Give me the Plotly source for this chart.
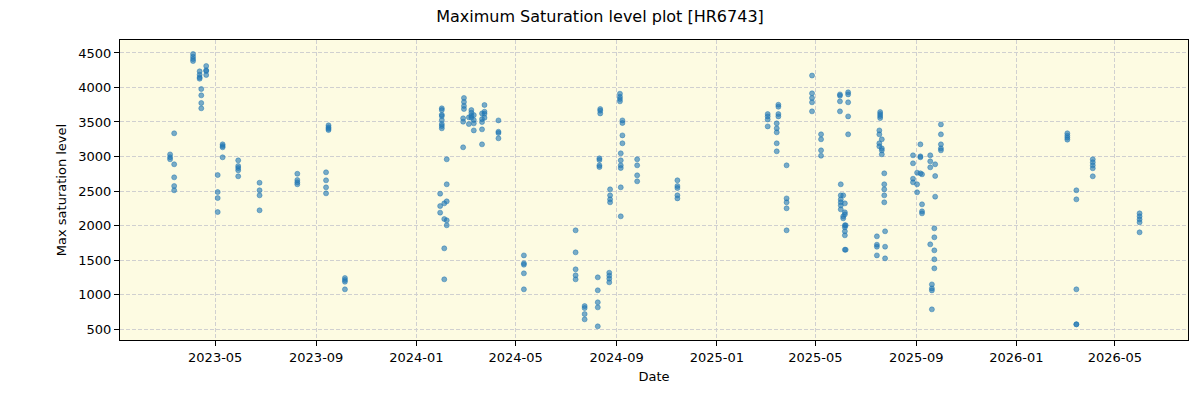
import plotly.graph_objects as go

group_dates = [
    "2023-03-07", "2023-03-12", "2023-04-04", "2023-04-12", "2023-04-14", "2023-04-20",
    "2023-05-04", "2023-05-10", "2023-05-29", "2023-06-24", "2023-08-09", "2023-09-13",
    "2023-09-16", "2023-10-06",
    "2024-01-30", "2024-02-01", "2024-02-04", "2024-02-07", "2024-02-27", "2024-02-28",
    "2024-03-05", "2024-03-08", "2024-03-11", "2024-03-21", "2024-03-24", "2024-04-10",
    "2024-05-11", "2024-07-13", "2024-07-24", "2024-08-09", "2024-08-11", "2024-08-12",
    "2024-08-23", "2024-08-24", "2024-09-05", "2024-09-06", "2024-09-08", "2024-09-26",
    "2024-11-14",
    "2025-03-04", "2025-03-15", "2025-03-17", "2025-03-27", "2025-04-27", "2025-05-08",
    "2025-05-31", "2025-06-01", "2025-06-04", "2025-06-06", "2025-06-07", "2025-06-10",
    "2025-07-15", "2025-07-18", "2025-07-19", "2025-07-21", "2025-07-24", "2025-07-25",
    "2025-08-28", "2025-09-02", "2025-09-06", "2025-09-08", "2025-09-18", "2025-09-20",
    "2025-09-23", "2025-09-24", "2025-10-01",
    "2026-03-04", "2026-03-15", "2026-04-04", "2026-05-31",
]
group_values = [
    [3030, 2990, 2960],
    [3336, 2887, 2698, 2572, 2510],
    [4485, 4446, 4412, 4383],
    [4234, 4185, 4147, 4127],
    [3978, 3886, 3775, 3698],
    [4311, 4249, 4239, 4181],
    [2731, 2485, 2398, 2195],
    [3176, 3152, 3133, 2988],
    [2944, 2862, 2833, 2800, 2713],
    [2620, 2510, 2437, 2220],
    [2750, 2659, 2626, 2597],
    [2771, 2655, 2553, 2466],
    [3451, 3422, 3402, 3383],
    [1239, 1210, 1185, 1075],
    [2461, 2282, 2186],
    [3698, 3673, 3605, 3586, 3528, 3470, 3441, 3408],
    [2321, 2094, 1669, 1220],
    [2959, 2597, 2350, 2075, 2003],
    [3553, 3504, 3133],
    [3848, 3790, 3732, 3688],
    [3567, 3470],
    [3673, 3634, 3590, 3561],
    [3600, 3528, 3480, 3378],
    [3624, 3542, 3499, 3393, 3176],
    [3746, 3649, 3620, 3561],
    [3523, 3359, 3340, 3263],
    [1567, 1452, 1432, 1307, 1075],
    [1930, 1611, 1365, 1278, 1220],
    [833, 804, 717, 640],
    [1249, 1061, 887, 814, 539],
    [2973, 2949, 2872, 2847],
    [3688, 3663, 3624],
    [1316, 1273, 1229, 1177],
    [2524, 2437, 2379, 2336],
    [3910, 3866, 3833, 3799],
    [3046, 2944, 2872, 2833, 2553, 2133],
    [3523, 3485, 3306, 3191],
    [2959, 2872, 2727, 2640],
    [2655, 2572, 2543, 2437, 2393],
    [3615, 3581, 3537, 3436],
    [3480, 3408, 3350, 3191, 3075],
    [3750, 3721, 3615, 3581],
    [2872, 2393, 2336, 2249, 1930],
    [4173, 3915, 3848, 3785, 3654],
    [3321, 3249, 3089, 3011],
    [3900, 3881, 3799, 3654],
    [2597, 2437, 2379, 2336, 2292, 2234],
    [2437, 2133, 2104],
    [2321, 2191, 2162, 2003, 1974, 1916, 1858, 1649],
    [2003, 1649],
    [3930, 3900, 3785, 3581, 3321],
    [1843, 1722, 1693, 1567],
    [3378, 3321, 3191, 3147],
    [3644, 3615, 3586, 3557],
    [3249, 3118, 3089, 3031],
    [2756, 2597, 2524, 2437, 2336],
    [1916, 1693, 1524],
    [3017, 2901, 2678, 2626],
    [2765, 2597, 2481],
    [3176, 3002, 2988, 2756],
    [2742, 2307, 2205, 2176],
    [3017, 2930, 2843, 1727],
    [1147, 1089, 1060, 785],
    [1959, 1829, 1640, 1510, 1379],
    [2887, 2717, 2418],
    [3465, 3321, 3176, 3118, 3089],
    [3336, 3302, 3273, 3244],
    [2510, 2379, 1075, 568, 568],
    [2959, 2916, 2872, 2829, 2713],
    [2176, 2133, 2089, 2046, 1901],
]

x_dates = []
y_vals = []
for d, vals in zip(group_dates, group_values):
    for v in vals:
        x_dates.append(d)
        y_vals.append(v)

x_tick_labels = ["2023-05", "2023-09", "2024-01", "2024-05", "2024-09",
                 "2025-01", "2025-05", "2025-09", "2026-01", "2026-05"]
y_tick_values = [500, 1000, 1500, 2000, 2500, 3000, 3500, 4000, 4500]

font_family = "DejaVu Sans, Arial, sans-serif"

fig = go.Figure()
fig.add_trace(go.Scatter(
    x=x_dates, y=y_vals, mode="markers",
    marker=dict(size=5, color="rgba(31,119,180,0.6)",
                line=dict(width=0.8, color="rgba(31,119,180,0.6)")),
    showlegend=False,
))

fig.update_layout(
    width=1200, height=400,
    margin=dict(l=120, r=12, t=40, b=60),
    paper_bgcolor="white",
    plot_bgcolor="#fdfbe2",
    font=dict(family=font_family, size=13, color="black"),
    title=dict(text="Maximum Saturation level plot [HR6743]", x=0.5, xanchor="center",
               y=0.96, yanchor="middle", font=dict(size=16, family=font_family)),
    xaxis=dict(
        title=dict(text="Date", font=dict(size=13), standoff=8),
        type="date",
        range=["2023-01-05", "2026-07-29"],
        tickvals=[t + "-01" for t in x_tick_labels],
        ticktext=x_tick_labels,
        ticks="outside", ticklen=5, tickcolor="black",
        showgrid=True, gridcolor="#d0d0d0", griddash="4px,2px", gridwidth=1,
        showline=True, linecolor="black", linewidth=1, mirror=True,
        zeroline=False,
    ),
    yaxis=dict(
        title=dict(text="Max saturation level", font=dict(size=13), standoff=8),
        range=[341, 4688],
        tickvals=y_tick_values,
        ticks="outside", ticklen=5, tickcolor="black",
        showgrid=True, gridcolor="#d0d0d0", griddash="4px,2px", gridwidth=1,
        showline=True, linecolor="black", linewidth=1, mirror=True,
        zeroline=False,
    ),
)

fig.write_html("out.html")
